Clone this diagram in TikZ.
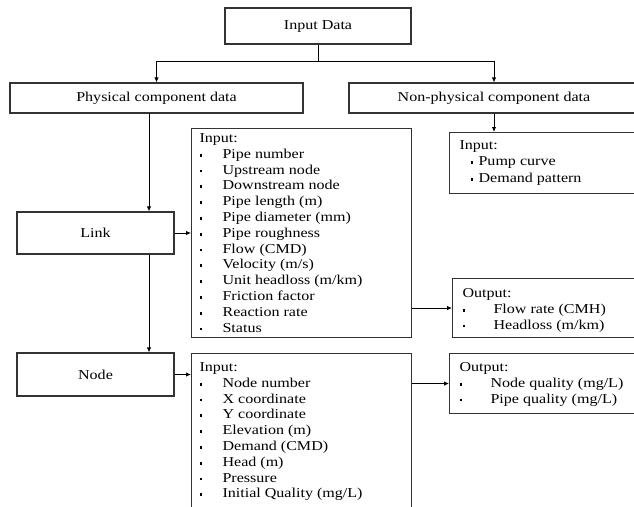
\documentclass[tikz,border=0pt]{standalone}
\usepackage{fontspec}
\setmainfont{Liberation Serif}[FakeStretch=1.18]
\usetikzlibrary{arrows.meta}
\usetikzlibrary{positioning}
\tikzset{>={Latex[length=5pt,width=4.5pt]}}
\tikzset{databox/.style = {draw=black!80, line width=1.1pt, inner sep=0pt, align=center}}
\tikzset{listbox/.style 2 args = {draw=black!80, line width=1.1pt, anchor=north west, inner xsep=#1, inner ysep=#2}}
\newcommand{\sqbul}{\rule[1.7pt]{2.8pt}{2.8pt}}
\newcommand{\bul}[1][23pt]{\makebox[#1][l]{\sqbul}}

\begin{document}
\begin{tikzpicture}[x=1pt, y=1pt, font=\fontsize{13.6}{15.8}\selectfont, line width=0.9pt]
    \useasboundingbox (0,0) rectangle (634,-506);
    \clip (0,0) rectangle (634,-506);

    % top level
    \node[databox, minimum width=186, minimum height=36] (indata) at (318,-26) {Input Data};
    \node[databox, minimum width=293, minimum height=30] (phys) at (156.5,-98) {Physical component data};
    \node[databox, minimum width=290, minimum height=30] (nonphys) at (494,-98) {Non-physical component data};

    % physical components
    \node[databox, minimum width=157, minimum height=42] (link) at (95.5,-233) {Link};
    \node[databox, minimum width=157, minimum height=43] (nodebox) at (95.5,-374.5) {Node};

    \node[listbox={8pt}{5pt}] (linkin) at (191,-128) {\parbox[t][199pt][t]{204pt}{Input:\\
        \bul Pipe number\\
        \bul Upstream node\\
        \bul Downstream node\\
        \bul Pipe length (m)\\
        \bul Pipe diameter (mm)\\
        \bul Pipe roughness\\
        \bul Flow (CMD)\\
        \bul Velocity (m/s)\\
        \bul Unit headloss (m/km)\\
        \bul Friction factor\\
        \bul Reaction rate\\
        \bul Status}};
    \node[listbox={8pt}{9pt}] (nodein) at (191,-353) {\parbox[t][200pt][t]{204pt}{Input:\\
        \bul Node number\\
        \bul X coordinate\\
        \bul Y coordinate\\
        \bul Elevation (m)\\
        \bul Demand (CMD)\\
        \bul Head (m)\\
        \bul Pressure\\
        \bul Initial Quality (mg/L)}};

    % non-physical components and outputs
    \node[listbox={10pt}{8pt}] (nonphysin) at (449,-132) {\parbox[t][45pt][t]{171pt}{\baselineskip=16.4pt Input:\\
        \hspace*{11pt}\bul[8pt]Pump curve\\
        \hspace*{11pt}\bul[8pt]Demand pattern}};
    \node[listbox={10pt}{10pt}] (linkout) at (452,-278) {\parbox[t][39pt][t]{168pt}{Output:\\
        \bul[31pt]Flow rate (CMH)\\
        \bul[31pt]Headloss (m/km)}};
    \node[listbox={10pt}{9pt}] (nodeout) at (449,-353) {\parbox[t][42pt][t]{171pt}{Output:\\
        \bul[31pt]Node quality (mg/L)\\
        \bul[31pt]Pipe quality (mg/L)}};

    % connectors
    \coordinate (trunk) at (149,-113);
    \draw[->] (indata.south) -- ++(0,-17pt) -| (phys.north);
    \draw[->] (indata.south) -- ++(0,-17pt) -| (nonphys.north);
    \draw[->] (nonphys.south) -- (nonphys.south |- nonphysin.north);
    \draw[->] (trunk) -- (trunk |- link.north);
    \draw[->] (trunk |- link.south) -- (trunk |- nodebox.north);
    \draw[->] (link.east) -- (link.east -| linkin.west);
    \draw[->] (nodebox.east) -- (nodebox.east -| nodein.west);
    \draw[->] (linkout.west -| linkin.east) -- (linkout.west);
    \draw[->] (nodeout.west -| nodein.east) -- (nodeout.west);
\end{tikzpicture}
\end{document}
